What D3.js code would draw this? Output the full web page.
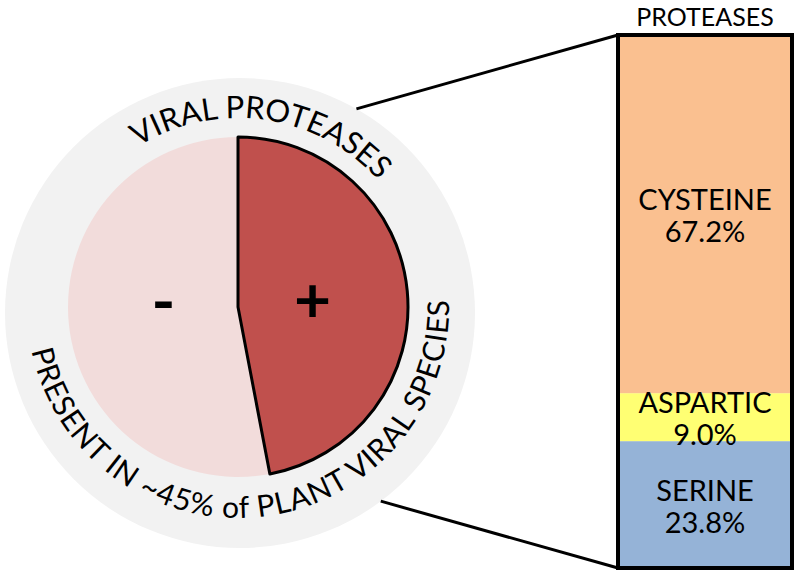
<!DOCTYPE html>
<html>
<head>
<meta charset="utf-8">
<script src="https://cdn.jsdelivr.net/npm/d3@7"></script>
<style>
  body { margin: 0; background: #fff; }
  svg { display: block; font-family: Lato, "Open Sans", sans-serif; }
</style>
</head>
<body>
<svg width="800" height="576"></svg>
<script>
// pie: share of plant viral species with / without proteases
const pieLabels = ['+', '-'];
const pieValues = [47, 53];

// bar: protease classes, bottom to top
const barCategories = ['SERINE', 'ASPARTIC', 'CYSTEINE'];
const barValues = [23.8, 9.0, 67.2];

const ringTitle = 'VIRAL PROTEASES';
const ringNote = 'PRESENT IN ~45% of PLANT VIRAL SPECIES';
const barTitle = 'PROTEASES';

const svg = d3.select('svg');

const cx = 238, cy = 307;
const pieR = 170;
const ringCx = 240, ringCy = 313, ringR = 235;

// grey ring behind the pie
svg.append('circle')
    .attr('cx', ringCx)
    .attr('cy', ringCy)
    .attr('r', ringR)
    .attr('fill', '#f2f2f2');

// text paths around the ring
const defs = svg.append('defs');
function polar(r, deg) {
    const a = deg * Math.PI / 180;
    return [cx + r * Math.sin(a), cy - r * Math.cos(a)];
}
function arcPath(r, a0, a1, sweep) {
    const p0 = polar(r, a0), p1 = polar(r, a1);
    const large = Math.abs(a1 - a0) > 180 ? 1 : 0;
    return `M${p0[0]},${p0[1]} A${r},${r} 0 ${large} ${sweep} ${p1[0]},${p1[1]}`;
}
defs.append('path').attr('id', 'topArc').attr('d', arcPath(189, -60, 76, 1));
defs.append('path').attr('id', 'botArc').attr('d', arcPath(211, 268, 78, 0));

svg.append('text')
    .attr('font-size', 31)
    .append('textPath')
    .attr('href', '#topArc')
    .attr('startOffset', '50%')
    .attr('text-anchor', 'middle')
    .text(ringTitle);

svg.append('text')
    .attr('font-size', 30)
    .attr('letter-spacing', 0.8)
    .append('textPath')
    .attr('href', '#botArc')
    .attr('startOffset', '50%')
    .attr('text-anchor', 'middle')
    .text(ringNote);

// pie
const pie = d3.pie().sort(null).value(d => d)(pieValues);
const arc = d3.arc().innerRadius(0).outerRadius(pieR);
const labelArc = d3.arc().innerRadius(75).outerRadius(75);
const pieColor = d3.scaleOrdinal().domain(pieLabels).range(['#c0504d', '#f2dcdb']);

const pg = svg.append('g').attr('transform', `translate(${cx},${cy})`);

pg.selectAll('path')
    .data(pie)
    .enter().append('path')
    .attr('d', arc)
    .attr('fill', (d, i) => pieColor(pieLabels[i]))
    .attr('stroke', (d, i) => i === 0 ? '#000' : 'none')
    .attr('stroke-width', 3)
    .attr('stroke-linejoin', 'round');

// keep the outlined slice on top
pg.selectAll('path').filter((d, i) => i === 0).raise();

// hyphen sits lower than plus in this font, lift it a bit
pg.selectAll('text')
    .data(pie)
    .enter().append('text')
    .attr('transform', d => `translate(${labelArc.centroid(d)})`)
    .attr('text-anchor', 'middle')
    .attr('dominant-baseline', 'central')
    .attr('dy', (d, i) => pieLabels[i] === '-' ? -15 : -2)
    .attr('font-size', 64)
    .attr('font-weight', 'bold')
    .text((d, i) => pieLabels[i]);

// stacked bar
const barX0 = 618, barX1 = 792;
const y = d3.scaleLinear().domain([0, 100]).range([568, 35]);
const barColor = d3.scaleOrdinal().domain(barCategories).range(['#95b3d7', '#ffff73', '#fac090']);

let acc = 0;
const stacked = barCategories.map((c, i) => {
    const s = { name: c, value: barValues[i], y0: acc, y1: acc + barValues[i] };
    acc += barValues[i];
    return s;
});

// connector lines from the ring to the bar
const topA = 29.7 * Math.PI / 180, botA = 143.2 * Math.PI / 180;
svg.append('line')
    .attr('x1', ringCx + ringR * Math.sin(topA))
    .attr('y1', ringCy - ringR * Math.cos(topA))
    .attr('x2', barX0)
    .attr('y2', y(100))
    .attr('stroke', '#000')
    .attr('stroke-width', 3);
svg.append('line')
    .attr('x1', ringCx + ringR * Math.sin(botA))
    .attr('y1', ringCy - ringR * Math.cos(botA))
    .attr('x2', barX0)
    .attr('y2', y(0))
    .attr('stroke', '#000')
    .attr('stroke-width', 3);

const bg = svg.append('g');
bg.selectAll('rect')
    .data(stacked)
    .enter().append('rect')
    .attr('x', barX0)
    .attr('width', barX1 - barX0)
    .attr('y', d => y(d.y1))
    .attr('height', d => y(d.y0) - y(d.y1))
    .attr('fill', d => barColor(d.name));

bg.append('rect')
    .attr('x', barX0)
    .attr('y', y(100))
    .attr('width', barX1 - barX0)
    .attr('height', y(0) - y(100))
    .attr('fill', 'none')
    .attr('stroke', '#000')
    .attr('stroke-width', 4);

const labels = bg.selectAll('text.seg')
    .data(stacked)
    .enter().append('text')
    .attr('class', 'seg')
    .attr('text-anchor', 'middle')
    .attr('font-size', 29);

labels.append('tspan')
    .attr('x', (barX0 + barX1) / 2)
    .attr('y', d => (y(d.y0) + y(d.y1)) / 2 - 4)
    .text(d => d.name);
labels.append('tspan')
    .attr('x', (barX0 + barX1) / 2)
    .attr('dy', 32)
    .text(d => d.value.toFixed(1) + '%');

svg.append('text')
    .attr('x', (barX0 + barX1) / 2)
    .attr('y', 26)
    .attr('text-anchor', 'middle')
    .attr('font-size', 25)
    .text(barTitle);
</script>
</body>
</html>
